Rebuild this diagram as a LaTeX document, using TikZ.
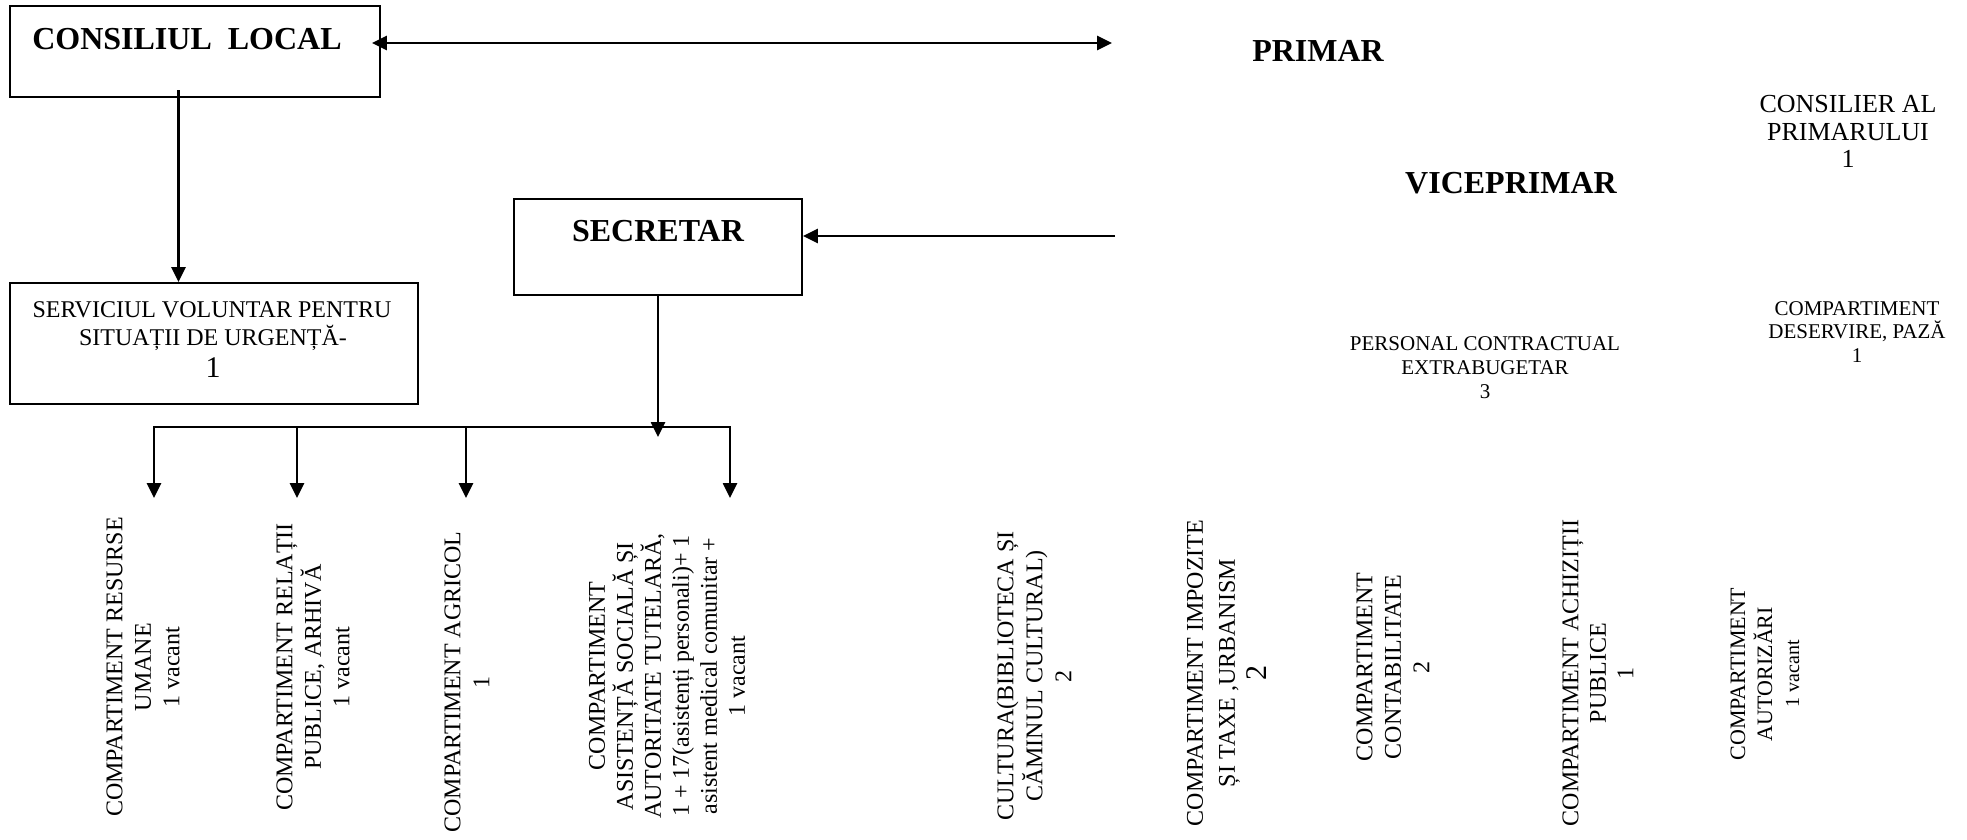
\documentclass[tikz,border=0pt]{standalone}
\usepackage{fontspec}
\setmainfont{Liberation Serif}
\usetikzlibrary{arrows.meta,calc}
\begin{document}
\begin{tikzpicture}[x=1pt,y=-1pt,
  box/.style={draw=black, line width=1.8pt, inner xsep=0pt, inner ysep=0pt},
  conn/.style={line width=2.6pt},
  arr/.style={conn, -{Triangle[length=15pt,width=14pt]}},
  darr/.style={conn, {Triangle[length=15pt,width=14pt]}-{Triangle[length=15pt,width=14pt]}},
  titlefont/.style={font=\fontsize{32}{36}\selectfont\bfseries},
  title/.style={titlefont, inner sep=0pt, anchor=base},
  lineone/.style={font=\fontsize{24}{28}\selectfont, inner sep=0pt, anchor=base},
  vlbl/.style={font=\fontsize{24}{28.5}\selectfont, inner sep=0pt, align=center, rotate=90, anchor=center},
  toplbl/.style={inner sep=0pt, align=center, anchor=north},
]
\useasboundingbox (0,0) rectangle (1967,839);

% boxes
\node[box, titlefont, minimum width=370pt, text height=43pt, text depth=48pt] (cl) at (195,51.5) {CONSILIUL\ \ LOCAL\hspace*{16pt}};
\node[box, titlefont, minimum width=288pt, text height=42pt, text depth=54pt] (sec) at (658,247) {SECRETAR};
\node[box, minimum width=408pt, minimum height=121pt] (sv) at (214,343.5) {};
\node[lineone] (sv1) at (212,317) {SERVICIUL VOLUNTAR PENTRU};
\node[lineone] (sv2) at (213,345) {SITUAȚII DE URGENȚĂ-};
\node[lineone, font=\fontsize{30}{32}\selectfont] (sv3) at (213,377) {1};

% free titles
\node[title] (pr) at (1318,61) {PRIMAR};
\node[title] (vp) at (1511,193) {VICEPRIMAR};

\node[toplbl, font=\fontsize{26}{27.5}\selectfont] (cons) at (1848,95.5) {CONSILIER AL\\PRIMARULUI\\1};
\node[toplbl, font=\fontsize{21}{24}\selectfont] (pers) at (1485,336) {PERSONAL CONTRACTUAL\\EXTRABUGETAR\\3};
\node[toplbl, font=\fontsize{21}{23.8}\selectfont] (paza) at (1857,301) {COMPARTIMENT\\DESERVIRE, PAZĂ\\1};

% bottom rotated labels
\node[vlbl] (c1) at (143,667) {COMPARTIMENT RESURSE\\UMANE\\1 vacant};
\node[vlbl] (c2) at (313,667) {COMPARTIMENT RELAȚII\\PUBLICE, ARHIVĂ\\1 vacant};
\node[vlbl, font=\fontsize{24}{29}\selectfont] (c3) at (467,682) {COMPARTIMENT AGRICOL\\1};
\node[vlbl, font=\fontsize{24}{28}\selectfont] (c4) at (667,676) {COMPARTIMENT\\ASISTENȚĂ SOCIALĂ ȘI\\AUTORITATE TUTELARĂ,\\1 + 17(asistenți personali)+ 1\\asistent medical comunitar +\\1 vacant};
\node[vlbl, font=\fontsize{24}{29}\selectfont] (c5) at (1034,676) {CULTURA(BIBLIOTECA ȘI\\CĂMINUL CULTURAL)\\2};
\node[vlbl, font=\fontsize{24}{32}\selectfont] (c6) at (1227,673) {COMPARTIMENT IMPOZITE\\ȘI TAXE ,URBANISM\\{\fontsize{30}{32}\selectfont 2}};
\node[vlbl] (c7) at (1393,667) {COMPARTIMENT\\CONTABILITATE\\2};
\node[vlbl, font=\fontsize{24}{27.5}\selectfont] (c8) at (1598,673) {COMPARTIMENT ACHIZIȚII\\PUBLICE\\1};
\node[vlbl, font=\fontsize{22}{27}\selectfont] (c9) at (1765,674) {COMPARTIMENT\\AUTORIZĂRI\\{\fontsize{20}{27}\selectfont 1 vacant}};

% connectors
\coordinate (pe) at (1112,43);
\draw[darr] ($(cl.east |- pe)+(-9,0)$) -- (pe);

\coordinate (ve) at (1115,236);
\draw[arr] (ve) -- (ve -| sec.east);

\coordinate (clx) at (178.5,90);
\draw[arr] (clx) -- (clx |- sv.north);

\coordinate (b1) at (154,427);
\coordinate (b2) at (297,427);
\coordinate (b3) at (466,427);
\coordinate (b4) at (730,427);
\coordinate (t1) at (154,498);
\coordinate (t2) at (297,498);
\coordinate (t3) at (466,498);
\coordinate (t4) at (730,498);
\draw[darr] (t1) -- (b1) -- (b4) -- (t4);
\draw[arr] (b2) -- (t2);
\draw[arr] (b3) -- (t3);

\coordinate (sd) at (658,437);
\draw[arr] (sec.south) -- (sd);
\end{tikzpicture}
\end{document}
